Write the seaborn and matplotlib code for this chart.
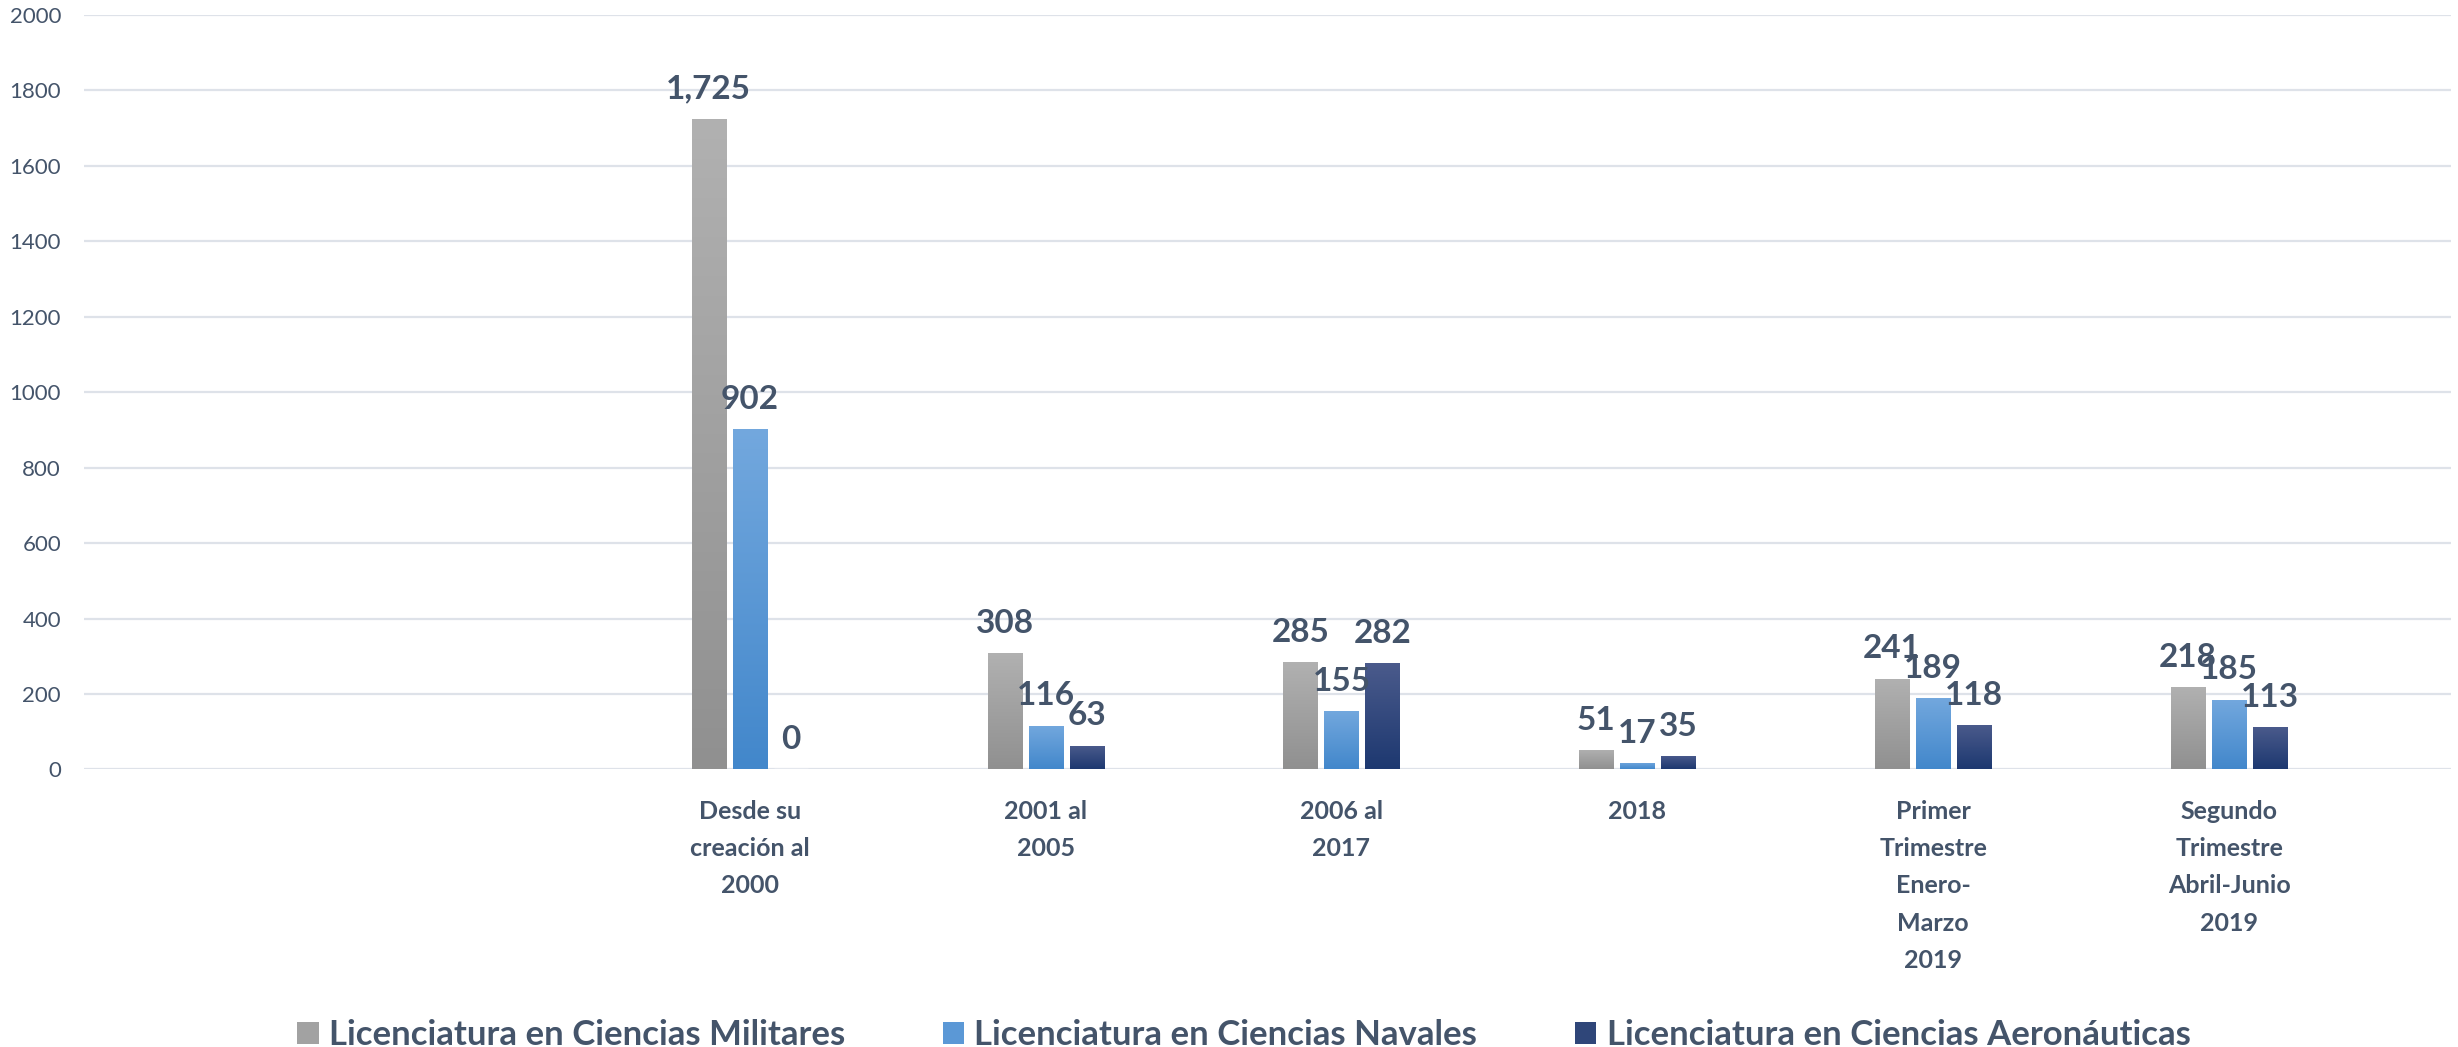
import numpy as np
import pandas as pd
import seaborn as sns
import matplotlib.pyplot as plt
from matplotlib.colors import LinearSegmentedColormap
from matplotlib.patches import Patch

# datos del grafico
periodos = ["Desde su\ncreación al\n2000", "2001 al\n2005", "2006 al\n2017", "2018",
            "Primer\nTrimestre\nEnero-\nMarzo\n2019", "Segundo\nTrimestre\nAbril-Junio\n2019"]
carreras = ["Licenciatura en Ciencias Militares", "Licenciatura en Ciencias Navales",
            "Licenciatura en Ciencias Aeronáuticas"]
militares = [1725, 308, 285, 51, 241, 218]
navales = [902, 116, 155, 17, 189, 185]
aeronauticas = [0, 63, 282, 35, 118, 113]

df = pd.DataFrame({
    'periodo': periodos * 3,
    'carrera': [carreras[0]] * 6 + [carreras[1]] * 6 + [carreras[2]] * 6,
    'valor': militares + navales + aeronauticas,
})

# degradados (arriba, abajo) y color medio para la leyenda
degradados = [("#b1b1b1", "#909090"), ("#73a8de", "#4287cb"), ("#4b5b8c", "#1d3870")]
colores = ["#a2a2a2", "#5b98d6", "#2f4679"]
texto = "#44546a"

sns.set_style("white")
plt.rcParams['font.family'] = ['Lato', 'DejaVu Sans']

fig = plt.figure(figsize=(24.58, 10.47), dpi=100)
ax = fig.add_axes([0.03417, 0.2651, 0.9630, 0.7206])

sns.barplot(data=df, x='periodo', y='valor', hue='carrera', order=periodos,
            hue_order=carreras, palette=colores, width=0.416, gap=0.17,
            legend=False, ax=ax, zorder=3)

# degradado vertical dentro de cada barra
for cont, (top, bottom) in zip(ax.containers, degradados):
    cmap = LinearSegmentedColormap.from_list("g", [bottom, top])
    for bar in cont:
        h = bar.get_height()
        if h <= 0:
            continue
        x0 = bar.get_x()
        grad = np.linspace(0, 1, 256).reshape(-1, 1)
        im = ax.imshow(grad, extent=[x0, x0 + bar.get_width(), 0, h], origin='lower',
                       aspect='auto', cmap=cmap, zorder=3)
        im.set_clip_path(bar)
        bar.set_facecolor('none')
        bar.set_edgecolor('none')

for cont, vals in zip(ax.containers, [militares, navales, aeronauticas]):
    ax.bar_label(cont, labels=[f"{v:,}" for v in vals], padding=11,
                 fontsize=24, fontweight='bold', color=texto)

ax.set_xlim(-2.25, 5.75)
ax.set_ylim(0, 2000)
ax.set_yticks(range(0, 2001, 200))
ax.yaxis.grid(True, color='#dee2e9', linewidth=1.6)
ax.set_axisbelow(True)
sns.despine(ax=ax, left=True, bottom=True)
ax.set_xlabel('')
ax.set_ylabel('')
ax.tick_params(axis='y', length=0, pad=16.5, labelsize=16, labelcolor=texto)
ax.tick_params(axis='x', length=0, pad=22, labelsize=18, labelcolor=texto)
for lab in ax.get_xticklabels():
    lab.set_fontweight('bold')
    lab.set_linespacing(1.75)

handles = [Patch(facecolor=c, edgecolor='none') for c in colores]
fig.legend(handles, carreras, loc='lower center', bbox_to_anchor=(0.506, -0.004),
           ncol=3, frameon=False, handlelength=0.62, handleheight=0.62,
           handletextpad=0.3, columnspacing=2.8, borderaxespad=0, borderpad=0,
           prop={'size': 25, 'weight': 'bold'}, labelcolor=texto)

fig.savefig('out.png', dpi=100)
